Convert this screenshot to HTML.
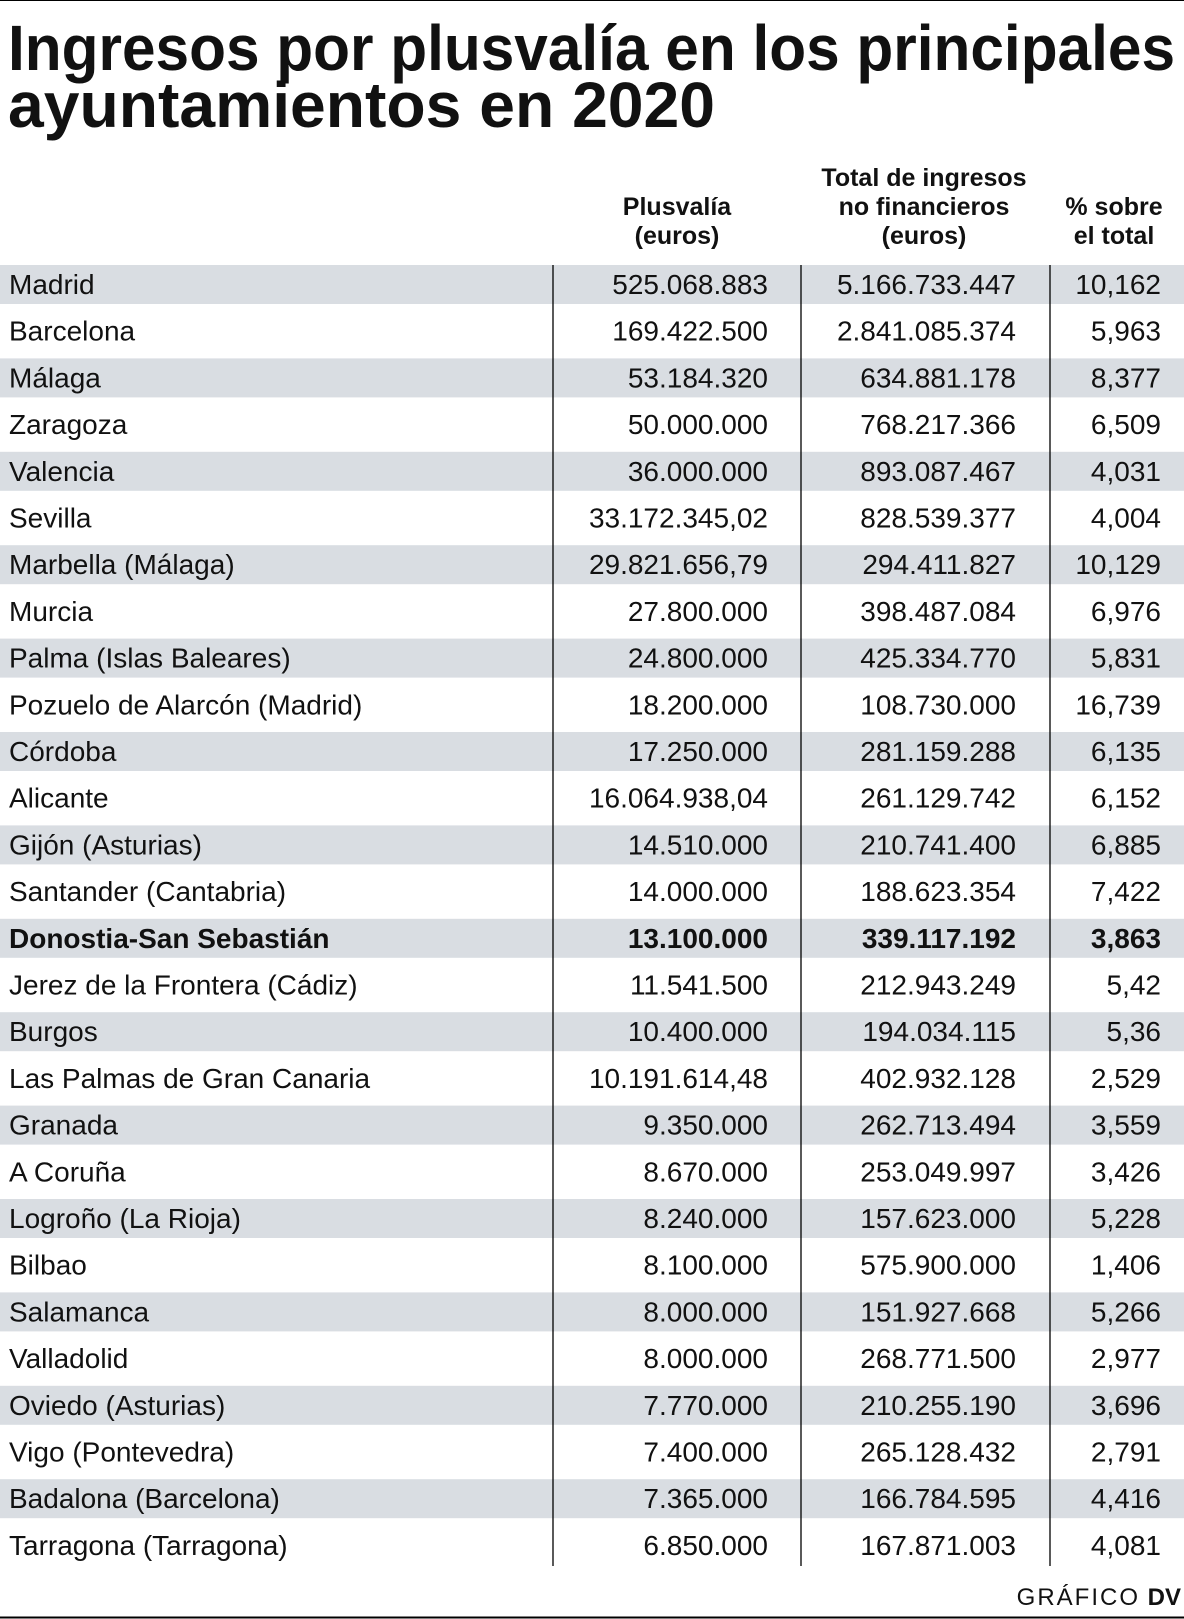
<!DOCTYPE html>
<html><head><meta charset="utf-8"><style>
html,body{margin:0;padding:0;background:#fff;}
svg{display:block;}
text{font-family:"Liberation Sans",sans-serif;fill:#111;}
.r text.n{text-anchor:end;}
</style></head><body>
<svg width="1184" height="1619" viewBox="0 0 1184 1619" xmlns="http://www.w3.org/2000/svg">
<rect x="0" y="0" width="1184" height="1619" fill="#fff"/>
<line x1="0" y1="0.5" x2="1184" y2="0.5" stroke="#000" stroke-width="1"/>
<text x="8" y="70" font-size="64" font-weight="bold" textLength="1167" lengthAdjust="spacingAndGlyphs">Ingresos por plusvalía en los principales</text>
<text x="8" y="127" font-size="64" font-weight="bold" textLength="707" lengthAdjust="spacingAndGlyphs">ayuntamientos en 2020</text>
<g font-size="25" font-weight="bold" text-anchor="middle">
<text x="677" y="215">Plusvalía</text><text x="677" y="244">(euros)</text>
<text x="924" y="186">Total de ingresos</text><text x="924" y="215">no financieros</text><text x="924" y="244">(euros)</text>
<text x="1114" y="215">% sobre</text><text x="1114" y="244">el total</text>
</g>
<g fill="#d9dde2">
<rect x="0" y="265" width="1184" height="39"/>
<rect x="0" y="358.4" width="1184" height="39"/>
<rect x="0" y="451.8" width="1184" height="39"/>
<rect x="0" y="545.2" width="1184" height="39"/>
<rect x="0" y="638.6" width="1184" height="39"/>
<rect x="0" y="732" width="1184" height="39"/>
<rect x="0" y="825.4" width="1184" height="39"/>
<rect x="0" y="918.8" width="1184" height="39"/>
<rect x="0" y="1012.2" width="1184" height="39"/>
<rect x="0" y="1105.6" width="1184" height="39"/>
<rect x="0" y="1199" width="1184" height="39"/>
<rect x="0" y="1292.4" width="1184" height="39"/>
<rect x="0" y="1385.8" width="1184" height="39"/>
<rect x="0" y="1479.2" width="1184" height="39"/>
</g>
<g font-size="28" class="r">
<g transform="translate(0,265)"><text x="9" y="29">Madrid</text><text class="n" x="768" y="29">525.068.883</text><text class="n" x="1016" y="29">5.166.733.447</text><text class="n" x="1161" y="29">10,162</text></g>
<g transform="translate(0,311.7)"><text x="9" y="29">Barcelona</text><text class="n" x="768" y="29">169.422.500</text><text class="n" x="1016" y="29">2.841.085.374</text><text class="n" x="1161" y="29">5,963</text></g>
<g transform="translate(0,358.4)"><text x="9" y="29">Málaga</text><text class="n" x="768" y="29">53.184.320</text><text class="n" x="1016" y="29">634.881.178</text><text class="n" x="1161" y="29">8,377</text></g>
<g transform="translate(0,405.1)"><text x="9" y="29">Zaragoza</text><text class="n" x="768" y="29">50.000.000</text><text class="n" x="1016" y="29">768.217.366</text><text class="n" x="1161" y="29">6,509</text></g>
<g transform="translate(0,451.8)"><text x="9" y="29">Valencia</text><text class="n" x="768" y="29">36.000.000</text><text class="n" x="1016" y="29">893.087.467</text><text class="n" x="1161" y="29">4,031</text></g>
<g transform="translate(0,498.5)"><text x="9" y="29">Sevilla</text><text class="n" x="768" y="29">33.172.345,02</text><text class="n" x="1016" y="29">828.539.377</text><text class="n" x="1161" y="29">4,004</text></g>
<g transform="translate(0,545.2)"><text x="9" y="29">Marbella (Málaga)</text><text class="n" x="768" y="29">29.821.656,79</text><text class="n" x="1016" y="29">294.411.827</text><text class="n" x="1161" y="29">10,129</text></g>
<g transform="translate(0,591.9)"><text x="9" y="29">Murcia</text><text class="n" x="768" y="29">27.800.000</text><text class="n" x="1016" y="29">398.487.084</text><text class="n" x="1161" y="29">6,976</text></g>
<g transform="translate(0,638.6)"><text x="9" y="29">Palma (Islas Baleares)</text><text class="n" x="768" y="29">24.800.000</text><text class="n" x="1016" y="29">425.334.770</text><text class="n" x="1161" y="29">5,831</text></g>
<g transform="translate(0,685.3)"><text x="9" y="29">Pozuelo de Alarcón (Madrid)</text><text class="n" x="768" y="29">18.200.000</text><text class="n" x="1016" y="29">108.730.000</text><text class="n" x="1161" y="29">16,739</text></g>
<g transform="translate(0,732)"><text x="9" y="29">Córdoba</text><text class="n" x="768" y="29">17.250.000</text><text class="n" x="1016" y="29">281.159.288</text><text class="n" x="1161" y="29">6,135</text></g>
<g transform="translate(0,778.7)"><text x="9" y="29">Alicante</text><text class="n" x="768" y="29">16.064.938,04</text><text class="n" x="1016" y="29">261.129.742</text><text class="n" x="1161" y="29">6,152</text></g>
<g transform="translate(0,825.4)"><text x="9" y="29">Gijón (Asturias)</text><text class="n" x="768" y="29">14.510.000</text><text class="n" x="1016" y="29">210.741.400</text><text class="n" x="1161" y="29">6,885</text></g>
<g transform="translate(0,872.1)"><text x="9" y="29">Santander (Cantabria)</text><text class="n" x="768" y="29">14.000.000</text><text class="n" x="1016" y="29">188.623.354</text><text class="n" x="1161" y="29">7,422</text></g>
<g transform="translate(0,918.8)" font-weight="bold"><text x="9" y="29">Donostia-San Sebastián</text><text class="n" x="768" y="29">13.100.000</text><text class="n" x="1016" y="29">339.117.192</text><text class="n" x="1161" y="29">3,863</text></g>
<g transform="translate(0,965.5)"><text x="9" y="29">Jerez de la Frontera (Cádiz)</text><text class="n" x="768" y="29">11.541.500</text><text class="n" x="1016" y="29">212.943.249</text><text class="n" x="1161" y="29">5,42</text></g>
<g transform="translate(0,1012.2)"><text x="9" y="29">Burgos</text><text class="n" x="768" y="29">10.400.000</text><text class="n" x="1016" y="29">194.034.115</text><text class="n" x="1161" y="29">5,36</text></g>
<g transform="translate(0,1058.9)"><text x="9" y="29">Las Palmas de Gran Canaria</text><text class="n" x="768" y="29">10.191.614,48</text><text class="n" x="1016" y="29">402.932.128</text><text class="n" x="1161" y="29">2,529</text></g>
<g transform="translate(0,1105.6)"><text x="9" y="29">Granada</text><text class="n" x="768" y="29">9.350.000</text><text class="n" x="1016" y="29">262.713.494</text><text class="n" x="1161" y="29">3,559</text></g>
<g transform="translate(0,1152.3)"><text x="9" y="29">A Coruña</text><text class="n" x="768" y="29">8.670.000</text><text class="n" x="1016" y="29">253.049.997</text><text class="n" x="1161" y="29">3,426</text></g>
<g transform="translate(0,1199)"><text x="9" y="29">Logroño (La Rioja)</text><text class="n" x="768" y="29">8.240.000</text><text class="n" x="1016" y="29">157.623.000</text><text class="n" x="1161" y="29">5,228</text></g>
<g transform="translate(0,1245.7)"><text x="9" y="29">Bilbao</text><text class="n" x="768" y="29">8.100.000</text><text class="n" x="1016" y="29">575.900.000</text><text class="n" x="1161" y="29">1,406</text></g>
<g transform="translate(0,1292.4)"><text x="9" y="29">Salamanca</text><text class="n" x="768" y="29">8.000.000</text><text class="n" x="1016" y="29">151.927.668</text><text class="n" x="1161" y="29">5,266</text></g>
<g transform="translate(0,1339.1)"><text x="9" y="29">Valladolid</text><text class="n" x="768" y="29">8.000.000</text><text class="n" x="1016" y="29">268.771.500</text><text class="n" x="1161" y="29">2,977</text></g>
<g transform="translate(0,1385.8)"><text x="9" y="29">Oviedo (Asturias)</text><text class="n" x="768" y="29">7.770.000</text><text class="n" x="1016" y="29">210.255.190</text><text class="n" x="1161" y="29">3,696</text></g>
<g transform="translate(0,1432.5)"><text x="9" y="29">Vigo (Pontevedra)</text><text class="n" x="768" y="29">7.400.000</text><text class="n" x="1016" y="29">265.128.432</text><text class="n" x="1161" y="29">2,791</text></g>
<g transform="translate(0,1479.2)"><text x="9" y="29">Badalona (Barcelona)</text><text class="n" x="768" y="29">7.365.000</text><text class="n" x="1016" y="29">166.784.595</text><text class="n" x="1161" y="29">4,416</text></g>
<g transform="translate(0,1525.9)"><text x="9" y="29">Tarragona (Tarragona)</text><text class="n" x="768" y="29">6.850.000</text><text class="n" x="1016" y="29">167.871.003</text><text class="n" x="1161" y="29">4,081</text></g>
</g>
<g stroke="#000" stroke-width="1.3">
<line x1="553" y1="265" x2="553" y2="1566"/>
<line x1="801" y1="265" x2="801" y2="1566"/>
<line x1="1050" y1="265" x2="1050" y2="1566"/>
</g>
<text x="1140" y="1605" font-size="24" text-anchor="end" fill="#222" letter-spacing="2">GRÁFICO</text>
<text x="1181" y="1605" font-size="24" font-weight="bold" text-anchor="end">DV</text>
<line x1="0" y1="1617.5" x2="1184" y2="1617.5" stroke="#000" stroke-width="2"/>
</svg>
</body></html>
